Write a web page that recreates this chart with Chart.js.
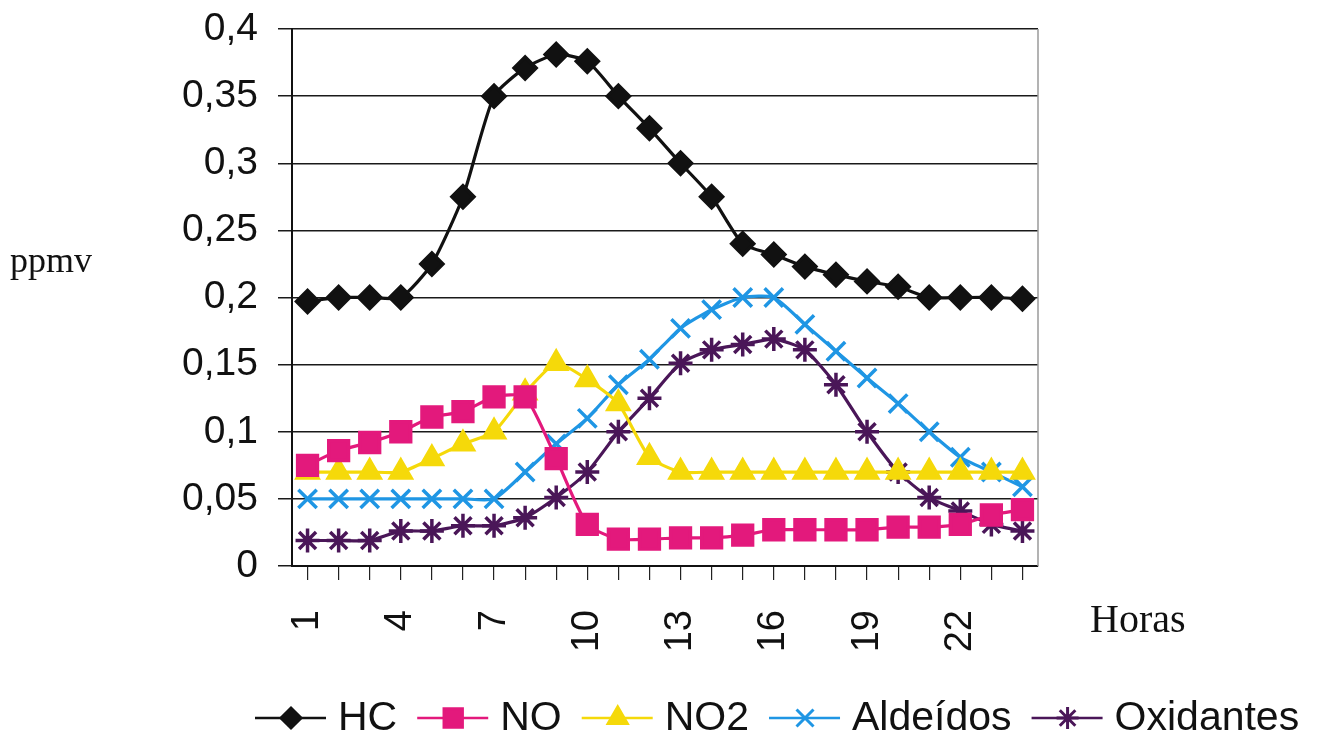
<!DOCTYPE html>
<html>
<head>
<meta charset="utf-8">
<script src="https://cdn.jsdelivr.net/npm/chart.js@4"></script>
<style>
  html, body { margin: 0; padding: 0; background: #fff; }
  #wrap { width: 1318px; height: 744px; }
</style>
</head>
<body>
<div id="wrap"><canvas id="poluentesChart" width="1318" height="744"></canvas></div>
<script>
// hours of the day
const horas = [1, 2, 3, 4, 5, 6, 7, 8, 9, 10, 11, 12, 13, 14, 15, 16, 17, 18, 19, 20, 21, 22, 23, 24];

const hcValues = [0.197, 0.2, 0.2, 0.2, 0.225, 0.275, 0.35, 0.371, 0.381, 0.376, 0.35, 0.326,
                  0.3, 0.275, 0.24, 0.232, 0.223, 0.217, 0.212, 0.208, 0.2, 0.2, 0.2, 0.199];
const noValues = [0.075, 0.086, 0.092, 0.1, 0.111, 0.115, 0.126, 0.126, 0.08, 0.031, 0.02, 0.02,
                  0.021, 0.021, 0.023, 0.027, 0.027, 0.027, 0.027, 0.029, 0.029, 0.031, 0.038, 0.042];
const no2Values = [0.07, 0.07, 0.07, 0.07, 0.08, 0.091, 0.1, 0.129, 0.151, 0.139, 0.121, 0.081,
                   0.07, 0.07, 0.07, 0.07, 0.07, 0.07, 0.07, 0.07, 0.07, 0.07, 0.07, 0.07];
const aldeidosValues = [0.05, 0.05, 0.05, 0.05, 0.05, 0.05, 0.05, 0.07, 0.091, 0.11, 0.135, 0.154,
                        0.177, 0.191, 0.2, 0.2, 0.18, 0.16, 0.14, 0.121, 0.1, 0.081, 0.07, 0.059];
const oxidantesValues = [0.019, 0.019, 0.019, 0.026, 0.026, 0.03, 0.03, 0.036, 0.051, 0.07, 0.1, 0.125,
                         0.151, 0.161, 0.165, 0.169, 0.161, 0.135, 0.1, 0.07, 0.051, 0.041, 0.031, 0.026];

const seriesNames = ['HC', 'NO', 'NO2', 'Aldeídos', 'Oxidantes'];
const seriesColors = ['#111111', '#e3197c', '#f5d90a', '#1f96e4', '#4a1658'];
const seriesMarkers = ['rectRot', 'rect', 'triangle', 'crossRot', 'star'];
const markerSizes = [11, 14, 12, 13, 12];

const yTitle = 'ppmv';
const xTitle = 'Horas';

const allValues = [hcValues, noValues, no2Values, aldeidosValues, oxidantesValues];

const datasets = [];
for (let i = 0; i < seriesNames.length; i++) {
    datasets.push({
        label: seriesNames[i],
        data: allValues[i],
        borderColor: seriesColors[i],
        backgroundColor: seriesColors[i],
        pointBackgroundColor: seriesColors[i],
        pointBorderColor: seriesColors[i],
        pointStyle: seriesMarkers[i],
        pointRadius: markerSizes[i],
        pointBorderWidth: 3.5,
        borderWidth: 3.2,
        tension: 0.2,
        fill: false
    });
}

// legend with line + marker, plus the loose axis captions
const extrasPlugin = {
    id: 'extras',
    afterDraw(chart) {
        const ctx = chart.ctx;
        const area = chart.chartArea;
        ctx.save();

        // right border of the plot
        ctx.strokeStyle = '#9a9a9a';
        ctx.lineWidth = 1.5;
        ctx.beginPath();
        ctx.moveTo(area.right, area.top);
        ctx.lineTo(area.right, area.bottom);
        ctx.stroke();

        ctx.fillStyle = '#111';
        ctx.font = '36px "Liberation Serif", "DejaVu Serif", serif';
        ctx.textBaseline = 'alphabetic';
        ctx.textAlign = 'left';
        ctx.fillText(yTitle, 10, 272);
        ctx.font = '40px "Liberation Serif", "DejaVu Serif", serif';
        ctx.fillText(xTitle, 1090, 632);

        // legend
        ctx.font = '41px "Liberation Sans", Arial, sans-serif';
        ctx.textBaseline = 'middle';
        let x = 255;
        const y = 718;
        chart.data.datasets.forEach(function (ds) {
            ctx.strokeStyle = ds.borderColor;
            ctx.lineWidth = 2.5;
            ctx.beginPath();
            ctx.moveTo(x, y);
            ctx.lineTo(x + 71, y);
            ctx.stroke();
            ctx.fillStyle = ds.pointBackgroundColor;
            ctx.strokeStyle = ds.pointBorderColor;
            ctx.lineWidth = 3;
            Chart.helpers.drawPoint(ctx, {
                pointStyle: ds.pointStyle,
                radius: ds.pointRadius - 1,
                rotation: 0,
                borderWidth: 3
            }, x + 36, y);
            ctx.fillStyle = '#111';
            ctx.fillText(ds.label, x + 83, y + 1);
            x = x + 83 + ctx.measureText(ds.label).width + 20;
        });

        ctx.restore();
    }
};

const chartControl = document.getElementById('poluentesChart');

new Chart(chartControl, {
    type: 'line',
    data: {
        labels: horas,
        datasets: datasets
    },
    options: {
        responsive: false,
        animation: false,
        layout: {
            padding: { top: 29, right: 280, bottom: 68, left: 0 }
        },
        scales: {
            x: {
                offset: true,
                grid: {
                    drawOnChartArea: false,
                    drawTicks: true,
                    tickLength: 14,
                    color: '#222',
                    lineWidth: 1.2
                },
                border: { display: true, color: '#111', width: 2 },
                ticks: {
                    autoSkip: false,
                    minRotation: 90,
                    maxRotation: 90,
                    padding: 30,
                    color: '#111',
                    font: { family: '"Liberation Sans", Arial, sans-serif', size: 38 },
                    callback: function (value, index) {
                        return index % 3 === 0 ? String(horas[index]) : '';
                    }
                },
                afterFit: function (scale) {
                    scale.height = 110;
                }
            },
            y: {
                min: 0,
                max: 0.4,
                grid: {
                    color: '#1a1a1a',
                    lineWidth: 1.5,
                    tickLength: 14
                },
                border: { display: true, color: '#111', width: 2 },
                ticks: {
                    stepSize: 0.05,
                    padding: 20,
                    color: '#111',
                    font: { family: '"Liberation Sans", Arial, sans-serif', size: 39 },
                    callback: function (value) {
                        return String(Number(value.toFixed(2))).replace('.', ',');
                    }
                },
                afterFit: function (scale) {
                    scale.width = 292;
                    // the top label may overhang; keep the plot top where the reference has it
                    scale.paddingTop = 0;
                    scale.paddingBottom = 0;
                }
            }
        },
        plugins: {
            legend: { display: false },
            tooltip: { enabled: false }
        }
    },
    plugins: [extrasPlugin]
});
</script>
</body>
</html>
